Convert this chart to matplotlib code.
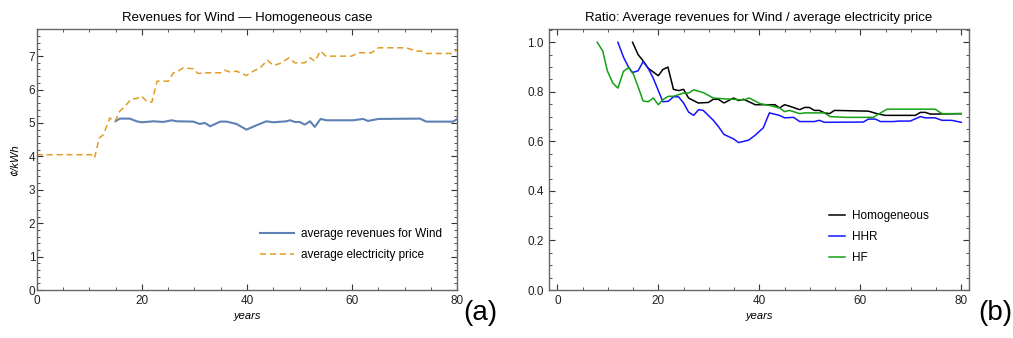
import matplotlib
matplotlib.use("Agg")
import matplotlib.pyplot as plt
from matplotlib.ticker import MultipleLocator

plt.rcParams["font.family"] = ["Liberation Sans", "DejaVu Sans"]

# ---- panel (a): revenues for wind, homogeneous case (cents/kWh) ----
price_years = [0, 10.4, 11, 11.9, 12.7, 13.9, 14.9, 15.8, 16.8, 18, 19, 20, 20.9, 21.9,
               22.9, 25, 26, 26.9, 27.9, 29.8, 30.7, 32, 34.9, 35.8, 36.8, 38,
               39.9, 41.2, 42.5, 43.9, 45, 46.3, 48, 49.1, 51, 52, 52.9, 54, 55,
               59.9, 61.2, 63.7, 65, 70.3, 72.2, 73.2, 74.1, 79.2, 80]
price = [4.05, 4.05, 3.95, 4.55, 4.65, 5.15, 5.05, 5.35, 5.5, 5.72, 5.73, 5.8, 5.65, 5.62,
         6.25, 6.25, 6.5, 6.55, 6.65, 6.62, 6.48, 6.5, 6.5, 6.58, 6.52, 6.55,
         6.42, 6.55, 6.65, 6.88, 6.72, 6.78, 6.95, 6.8, 6.8, 6.95, 6.85, 7.15, 7.0,
         7.0, 7.1, 7.1, 7.25, 7.25, 7.15, 7.15, 7.08, 7.08, 7.2]

wind_years = [15, 15.8, 17.7, 19, 20, 22.2, 24.1, 25.7, 26.6, 29.8, 31, 32, 33,
              34.9, 36.1, 38, 39.9, 41.8, 43.7, 45, 47.5, 48.2, 49.1, 50, 51, 52,
              52.9, 54, 55.1, 60.2, 62.1, 63, 65, 72.9, 74.1, 79.2, 80]
wind_rev = [5.05, 5.13, 5.13, 5.05, 5.02, 5.05, 5.03, 5.08, 5.05, 5.04, 4.97, 5.0, 4.9,
            5.04, 5.04, 4.97, 4.8, 4.93, 5.05, 5.02, 5.05, 5.08, 5.03, 5.03, 4.95, 5.05,
            4.88, 5.12, 5.08, 5.08, 5.12, 5.06, 5.12, 5.13, 5.04, 5.04, 5.12]

# ---- panel (b): ratio revenue / price ----
homog_years = [14.9, 16, 17, 18, 19, 20, 20.9, 21.9, 23, 24, 25, 26, 27.9, 29.9, 30.9,
               31.9, 33, 34.9, 35.9, 36.9, 39.2, 43.1, 44, 45, 46, 48, 49, 49.9, 50.9,
               51.9, 52.9, 53.9, 54.9, 61.6, 63.3, 64.9, 70.9, 71.9, 72.9, 73.9, 80]
homog = [1.0, 0.95, 0.925, 0.895, 0.88, 0.865, 0.89, 0.9, 0.81, 0.805, 0.81, 0.775, 0.755,
         0.757, 0.77, 0.77, 0.755, 0.775, 0.765, 0.77, 0.748, 0.748, 0.735, 0.748, 0.742,
         0.728, 0.737, 0.737, 0.725, 0.725, 0.715, 0.712, 0.725, 0.722, 0.712, 0.705,
         0.705, 0.717, 0.717, 0.71, 0.712]

hhr_years = [12, 13.1, 14.1, 14.9, 16, 17, 18, 19, 20, 20.9, 22, 23, 24, 25, 26, 27, 28,
             28.9, 29.9, 30.9, 31.9, 33, 34.9, 35.9, 37.9, 39.2, 40.8, 42, 44, 45, 46.8,
             48, 50.9, 51.9, 52.9, 60.6, 61.6, 63, 64, 66.6, 67.6, 69.9, 71.9, 72.9,
             74.8, 76.2, 78.1, 80]
hhr = [1.0, 0.94, 0.9, 0.878, 0.885, 0.922, 0.895, 0.855, 0.805, 0.76, 0.762, 0.78, 0.78,
       0.755, 0.718, 0.705, 0.728, 0.725, 0.705, 0.685, 0.66, 0.628, 0.61, 0.595, 0.605,
       0.625, 0.655, 0.715, 0.705, 0.695, 0.697, 0.68, 0.68, 0.685, 0.677, 0.678, 0.69,
       0.69, 0.68, 0.68, 0.682, 0.682, 0.7, 0.695, 0.695, 0.685, 0.685, 0.677]

hf_years = [7.9, 9, 9.9, 11, 12, 13.1, 14.1, 15.1, 16, 17, 18, 19, 20, 21, 22, 23, 25, 26,
            27, 28.9, 30.9, 33, 34.9, 36.9, 38, 40.2, 42, 44, 45, 46, 48, 49, 52.9, 54,
            57, 62.6, 63.6, 65.3, 74.8, 76.2, 80]
hf = [1.0, 0.965, 0.885, 0.835, 0.815, 0.883, 0.897, 0.87, 0.82, 0.763, 0.76, 0.775,
      0.748, 0.77, 0.782, 0.782, 0.795, 0.795, 0.808, 0.797, 0.775, 0.772, 0.77, 0.767,
      0.775, 0.752, 0.745, 0.735, 0.72, 0.725, 0.712, 0.715, 0.715, 0.7, 0.697, 0.697,
      0.71, 0.73, 0.73, 0.712, 0.712]

fig = plt.figure(figsize=(10.13, 3.38), dpi=100)
ax1 = fig.add_axes([0.0362, 0.142, 0.4152, 0.771])
ax2 = fig.add_axes([0.5417, 0.142, 0.4152, 0.771])


def style(ax):
    for s in ax.spines.values():
        s.set_color("#666666")
        s.set_linewidth(1.0)
    ax.tick_params(which="both", direction="in", top=True, right=True,
                   colors="#333333", labelcolor="#222222", labelsize=8.5)
    ax.tick_params(which="major", length=4, width=0.8)
    ax.tick_params(which="minor", length=2, width=0.6)
    ax.set_xlabel("years", fontsize=8, style="italic", labelpad=3)


ax1.plot(wind_years, wind_rev, color="#5E81B5", lw=1.5,
         label="average revenues for Wind")
ax1.plot(price_years, price, color="#E19C24", lw=1.1, ls=(0, (4, 2.5)),
         label="average electricity price")
ax1.set_xlim(0, 80)
ax1.set_ylim(0, 7.8)
ax1.xaxis.set_major_locator(MultipleLocator(20))
ax1.xaxis.set_minor_locator(MultipleLocator(5))
ax1.yaxis.set_major_locator(MultipleLocator(1))
ax1.yaxis.set_minor_locator(MultipleLocator(0.2))
style(ax1)
ax1.tick_params(axis="y", pad=1)
ax1.set_ylabel("¢/kWh", fontsize=8, style="italic", labelpad=6)
ax1.set_title("Revenues for Wind — Homogeneous case", fontsize=9.5, pad=6)
ax1.legend(loc="lower right", bbox_to_anchor=(0.99, 0.07), frameon=False,
           fontsize=8.5, handlelength=2.9, labelspacing=0.75, handletextpad=0.6)

ax2.plot(homog_years, homog, color="black", lw=1.1, label="Homogeneous")
ax2.plot(hhr_years, hhr, color="#1414FF", lw=1.1, label="HHR")
ax2.plot(hf_years, hf, color="#14A014", lw=1.1, label="HF")
ax2.set_xlim(-1.7, 81.6)
ax2.set_ylim(0, 1.052)
ax2.xaxis.set_major_locator(MultipleLocator(20))
ax2.xaxis.set_minor_locator(MultipleLocator(5))
ax2.yaxis.set_major_locator(MultipleLocator(0.2))
ax2.yaxis.set_minor_locator(MultipleLocator(0.05))
ax2.yaxis.set_major_formatter(plt.FormatStrFormatter("%.1f"))
style(ax2)
ax2.set_title("Ratio: Average revenues for Wind / average electricity price",
              fontsize=9.5, pad=6)
ax2.legend(loc="lower right", bbox_to_anchor=(0.93, 0.06), frameon=False,
           fontsize=8.5, handlelength=1.4, labelspacing=0.75, handletextpad=0.6)

fig.text(0.474, 0.035, "(a)", fontsize=20, ha="center", va="bottom")
fig.text(0.983, 0.035, "(b)", fontsize=20, ha="center", va="bottom")

fig.savefig("out.png", dpi=100)
